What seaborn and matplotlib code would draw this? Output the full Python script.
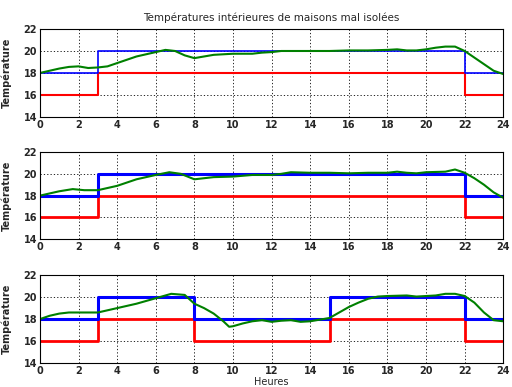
import numpy as np
import pandas as pd
import matplotlib
matplotlib.use("Agg")
import matplotlib.pyplot as plt
import seaborn as sns

sns.set_style("white")
plt.rcParams['font.family'] = ['DejaVu Sans']

title = "Températures intérieures de maisons mal isolées"
ylabel = "Température"
xlabel = "Heures"

# setpoints (steps-post)
sp_hours_12 = [0, 3, 22, 24]
blue_12 = [18, 20, 18, 18]
red_12 = [16, 18, 16, 16]
sp_hours_3 = [0, 3, 8, 15, 22, 24]
blue_3 = [18, 20, 18, 20, 18, 18]
red_3 = [16, 18, 16, 18, 16, 16]

# indoor temperature (green)
h1 = [0, 0.5, 1, 1.5, 2, 2.5, 3, 3.5, 4, 4.5, 5, 5.5, 6, 6.5, 7, 7.5, 8, 8.5, 9, 9.5, 10, 10.5, 11, 11.5, 12, 12.5, 13, 14, 15, 16, 17, 18, 18.5, 19, 19.5, 20, 20.5, 21, 21.5, 22, 22.5, 23, 23.5, 24]
t1 = [18.0, 18.2, 18.4, 18.55, 18.6, 18.45, 18.5, 18.6, 18.9, 19.2, 19.5, 19.7, 19.9, 20.1, 20.0, 19.6, 19.35, 19.5, 19.65, 19.7, 19.75, 19.75, 19.75, 19.85, 19.9, 20.0, 20.0, 20.0, 20.0, 20.05, 20.05, 20.1, 20.15, 20.05, 20.05, 20.15, 20.3, 20.4, 20.4, 20.0, 19.4, 18.8, 18.2, 17.9]
h2 = [0, 1, 1.7, 2.3, 3, 4, 5, 6, 6.7, 7.3, 8, 9, 10, 11, 12, 12.5, 13, 14, 15, 16, 17, 18, 18.5, 19, 19.5, 20, 21, 21.5, 22, 22.5, 23, 23.5, 24]
t2 = [18.0, 18.4, 18.6, 18.5, 18.5, 18.9, 19.5, 19.9, 20.15, 20.0, 19.5, 19.7, 19.75, 19.9, 19.9, 20.0, 20.15, 20.1, 20.1, 20.05, 20.1, 20.1, 20.2, 20.1, 20.05, 20.15, 20.2, 20.4, 20.1, 19.6, 19.0, 18.3, 17.8]
h3 = [0, 0.5, 1, 1.5, 2, 3, 4, 5, 6, 6.8, 7.5, 8, 8.5, 9, 9.5, 9.8, 10, 10.5, 11, 11.5, 12, 12.5, 13, 13.5, 14, 14.5, 15, 16, 16.5, 17, 17.5, 18, 19, 19.5, 20, 20.5, 21, 21.5, 22, 22.5, 23, 23.5, 24]
t3 = [18.0, 18.3, 18.5, 18.6, 18.6, 18.6, 19.0, 19.4, 19.9, 20.3, 20.2, 19.4, 19.0, 18.5, 17.8, 17.3, 17.35, 17.6, 17.8, 17.9, 17.75, 17.85, 17.9, 17.75, 17.8, 17.95, 18.1, 19.1, 19.5, 19.85, 20.05, 20.1, 20.15, 20.05, 20.1, 20.15, 20.3, 20.3, 20.1, 19.5, 18.6, 17.9, 17.8]

xticks = list(range(0, 25, 2))
yticks = [14, 16, 18, 20, 22]

fig = plt.figure(figsize=(5.12, 3.87), dpi=100)
positions = [(0.078, 0.698, 0.905, 0.227), (0.078, 0.382, 0.905, 0.225), (0.078, 0.062, 0.905, 0.227)]
panels = [
    (sp_hours_12, blue_12, red_12, h1, t1, 1.2, 1.5),
    (sp_hours_12, blue_12, red_12, h2, t2, 2.2, 2.0),
    (sp_hours_3, blue_3, red_3, h3, t3, 2.2, 2.0),
]
axes = []
for pos, (sh, b, r, hh, tt, lwb, lwr) in zip(positions, panels):
    ax = fig.add_axes(pos)
    axes.append(ax)
    ax.set_xlim(0, 24)
    ax.set_ylim(14, 22)
    ax.set_xticks(xticks)
    ax.set_yticks(yticks)
    ax.grid(True, color='black', linestyle=(0, (1.5, 2.5)), linewidth=0.6)
    ax.set_axisbelow(True)
    sp = pd.DataFrame({'h': sh, 'b': b, 'r': r})
    sns.lineplot(data=sp, x='h', y='r', ax=ax, color='#ff0000', linewidth=lwr, drawstyle='steps-post')
    sns.lineplot(data=sp, x='h', y='b', ax=ax, color='#0000ff', linewidth=lwb, drawstyle='steps-post')
    tdf = pd.DataFrame({'h': hh, 't': tt})
    sns.lineplot(data=tdf, x='h', y='t', ax=ax, color='#008000', linewidth=1.5)
    ax.set_xlabel('')
    ax.set_ylabel(ylabel, fontsize=7, fontweight='bold')
    ax.yaxis.set_label_coords(-0.06, 0.5)
    for lab in ax.get_xticklabels() + ax.get_yticklabels():
        lab.set_fontsize(7)
        lab.set_fontweight('bold')
    ax.tick_params(axis='both', length=2, pad=2, direction='in')
    for s in ax.spines.values():
        s.set_color('black')
        s.set_linewidth(0.8)

axes[0].set_title(title, fontsize=7.5, pad=6)
axes[2].set_xlabel(xlabel, fontsize=7, labelpad=1)

fig.savefig('out.png', dpi=100)
